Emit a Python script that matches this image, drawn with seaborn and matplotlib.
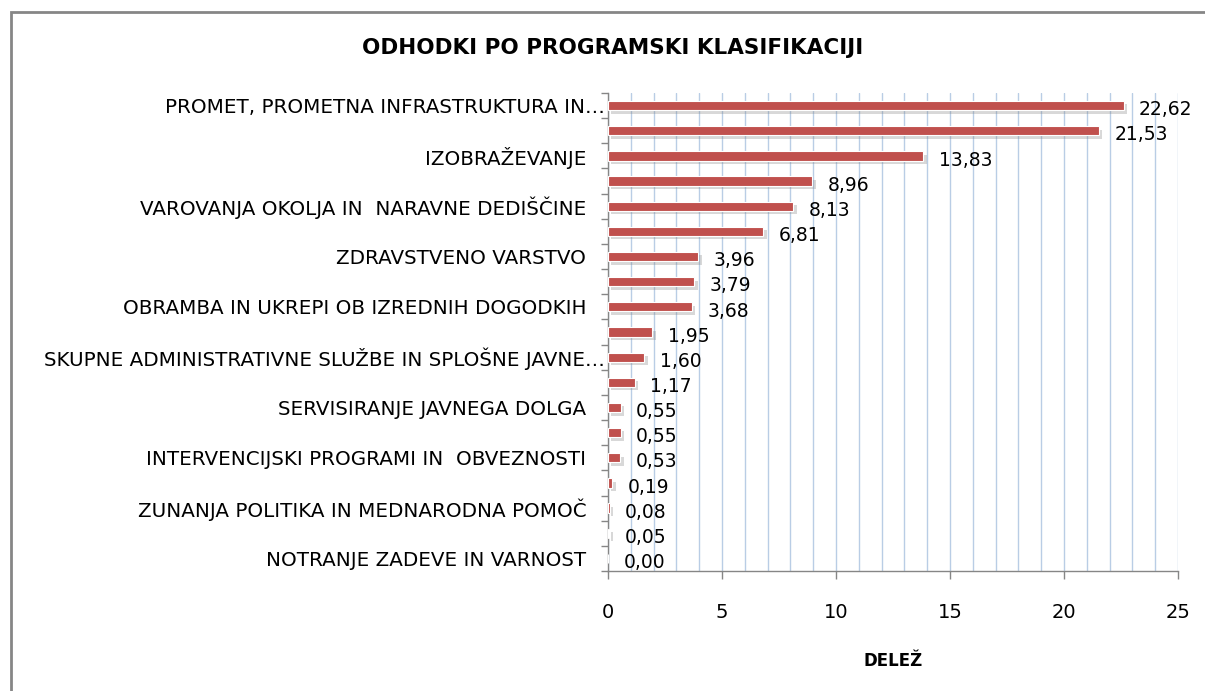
import numpy as np
import pandas as pd
import matplotlib
matplotlib.use("Agg")
import matplotlib.pyplot as plt
import matplotlib.patheffects as pe
from matplotlib.ticker import MultipleLocator, FixedLocator
from matplotlib.transforms import ScaledTranslation
from matplotlib.patches import Rectangle
import seaborn as sns

# ----------------------------
# Data
# ----------------------------
title = "ODHODKI PO PROGRAMSKI KLASIFIKACIJI"
xlabel = "DELEŽ"
labels = [
    "PROMET, PROMETNA INFRASTRUKTURA IN…", "",
    "IZOBRAŽEVANJE", "",
    "VAROVANJA OKOLJA IN  NARAVNE DEDIŠČINE", "",
    "ZDRAVSTVENO VARSTVO", "",
    "OBRAMBA IN UKREPI OB IZREDNIH DOGODKIH", "",
    "SKUPNE ADMINISTRATIVNE SLUŽBE IN SPLOŠNE JAVNE…", "",
    "SERVISIRANJE JAVNEGA DOLGA", "",
    "INTERVENCIJSKI PROGRAMI IN  OBVEZNOSTI", "",
    "ZUNANJA POLITIKA IN MEDNARODNA POMOČ", "",
    "NOTRANJE ZADEVE IN VARNOST",
]
values = [22.62, 21.53, 13.83, 8.96, 8.13, 6.81, 3.96, 3.79, 3.68, 1.95,
          1.60, 1.17, 0.55, 0.55, 0.53, 0.19, 0.08, 0.05, 0.00]
x_ticks = [0, 5, 10, 15, 20, 25]

df = pd.DataFrame({"program": [str(i) for i in range(len(values))],
                   "share": values})

# ----------------------------
# Style
# ----------------------------
sns.set_theme(style="white")
plt.rcParams['font.family'] = ['DejaVu Sans']
plt.rcParams['text.color'] = 'black'
plt.rcParams['xtick.color'] = 'black'
plt.rcParams['ytick.color'] = 'black'
plt.rcParams['axes.labelcolor'] = 'black'
bar_color = "#C0504D"
grid_color = "#B9CDE5"
axis_color = "#868686"

fig = plt.figure(figsize=(12.05, 6.91), dpi=100)
ax = fig.add_axes([608 / 1205, 1 - 571 / 691, 570 / 1205, 478 / 691])

sns.barplot(data=df, x="share", y="program", orient="h", color=bar_color,
            width=0.37, saturation=1, ax=ax, zorder=3)

for p in ax.patches:
    p.set_edgecolor("white")
    p.set_linewidth(0.8)
    p.set_path_effects([pe.SimplePatchShadow(offset=(2.5, -2.5), shadow_rgbFace="#7f7f7f", alpha=0.3),
                        pe.Normal()])

# value labels
for i, v in enumerate(values):
    ax.annotate(f"{v:.2f}".replace(".", ","), xy=(v, i), xytext=(11, -3),
                textcoords="offset points", ha="left", va="center",
                fontsize=13.5, color="black")

# ----------------------------
# Axes
# ----------------------------
ax.set_xlim(0, 25)
ax.set_ylim(len(values) - 0.5, -0.5)
ax.xaxis.set_major_locator(FixedLocator(x_ticks))
ax.xaxis.set_minor_locator(MultipleLocator(1))
ax.grid(axis="x", which="both", color=grid_color, lw=1, zorder=0)
ax.set_axisbelow(True)

ax.set_yticks(range(len(values)))
ax.set_yticklabels(labels, fontsize=14.3)
ax.yaxis.set_minor_locator(FixedLocator(np.arange(-0.5, len(values), 1)))
ax.tick_params(axis="y", which="major", length=0, pad=2)
ax.tick_params(axis="y", which="minor", length=5, width=1, color=axis_color, left=True)
ax.tick_params(axis="x", which="major", length=6, width=1, color=axis_color,
               labelcolor="black", bottom=True, pad=17, labelsize=14)
ax.tick_params(axis="x", which="minor", length=0)

for lbl in ax.get_yticklabels():
    if not lbl.get_text().endswith("…"):
        lbl.set_transform(lbl.get_transform() + ScaledTranslation(-19 / 100, 0, fig.dpi_scale_trans))

for s in ["top", "right"]:
    ax.spines[s].set_visible(False)
for s in ["left", "bottom"]:
    ax.spines[s].set_color(axis_color)
    ax.spines[s].set_linewidth(1)

ax.set_ylabel("")
ax.set_xlabel(xlabel, fontsize=12, fontweight="bold", labelpad=22)

fig.text(613 / 1205, 1 - 48 / 691, title, ha="center", va="center",
         fontsize=15.5, fontweight="bold")

# chart frame
fig.patches.append(Rectangle((11 / 1205, -0.05), 1.1, 1 - 12 / 691 + 0.05,
                             transform=fig.transFigure, fill=False,
                             edgecolor=axis_color, lw=2))

fig.savefig("out.png", dpi=100)
